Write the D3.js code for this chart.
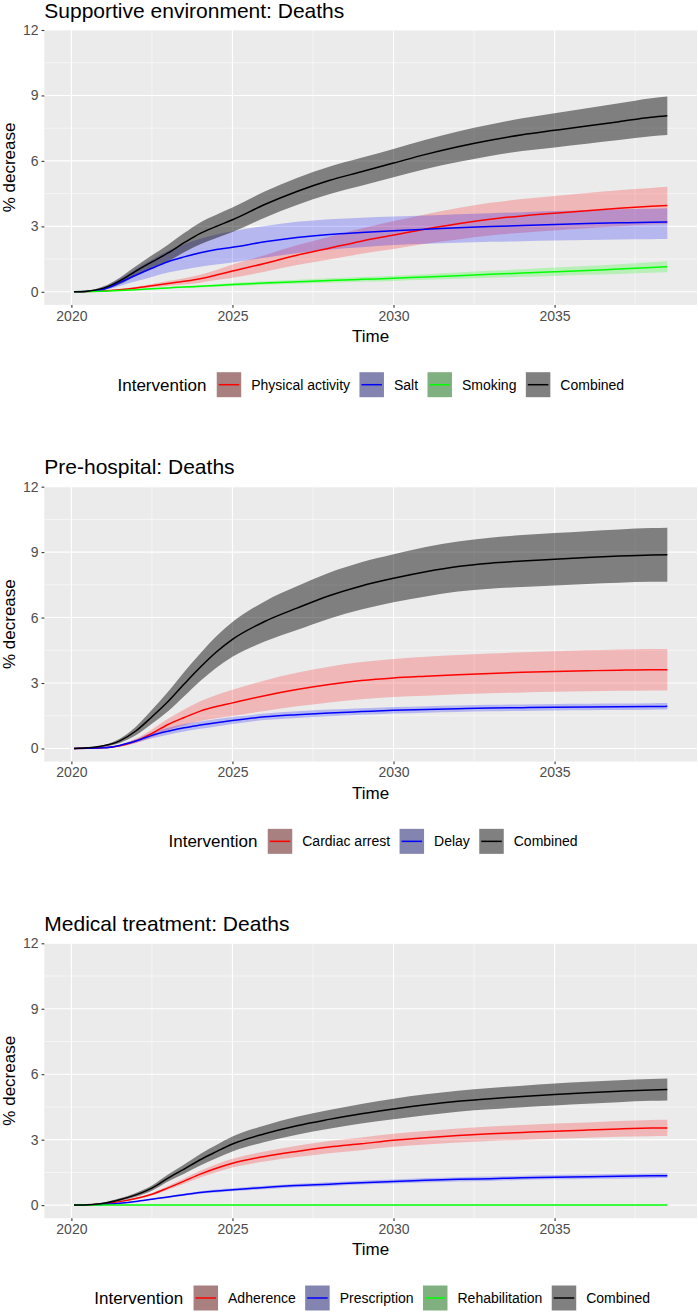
<!DOCTYPE html>
<html>
<head>
<meta charset="utf-8">
<title>Deaths: % decrease by intervention</title>
<script src="https://cdn.jsdelivr.net/npm/d3@7"></script>
<style>
  body { margin: 0; background: #fff; }
  svg { display: block; font-family: "Liberation Sans", Arial, Helvetica, sans-serif; }
</style>
</head>
<body>
<script>
(function(){

  //pseudo-global data
  var years = [2020.08, 2020.5, 2021, 2021.5, 2022, 2022.5, 2023, 2023.5, 2024, 2024.5, 2025, 2026, 2027,
               2028, 2029, 2030, 2031, 2032, 2033, 2034, 2035, 2036, 2037, 2038, 2038.5];
  var xTicks = [2020, 2025, 2030, 2035];
  var xMinor = [2022.5, 2027.5, 2032.5, 2037.5];
  var yTicks = [0, 3, 6, 9, 12];
  var yMinor = [1.5, 4.5, 7.5, 10.5];
  var panelTitles = ["Supportive environment: Deaths", "Pre-hospital: Deaths", "Medical treatment: Deaths"];
  var legendTitle = "Intervention";
  var xTitle = "Time", yTitle = "% decrease";

  //panel 1: supportive environment
  var envPhysMean = [0, 0.01, 0.04, 0.1, 0.18, 0.28, 0.38, 0.48, 0.6, 0.77, 0.95, 1.3, 1.68, 2.0, 2.32, 2.6, 2.88, 3.12, 3.33, 3.48, 3.6, 3.72, 3.83, 3.92, 3.96];
  var envPhysLo   = [0, 0.01, 0.03, 0.07, 0.13, 0.2, 0.27, 0.34, 0.42, 0.54, 0.65, 0.92, 1.23, 1.48, 1.74, 1.96, 2.2, 2.4, 2.58, 2.71, 2.81, 2.91, 3.0, 3.08, 3.11];
  var envPhysHi   = [0, 0.01, 0.05, 0.13, 0.23, 0.36, 0.49, 0.62, 0.78, 1.0, 1.25, 1.68, 2.13, 2.52, 2.9, 3.24, 3.56, 3.84, 4.08, 4.25, 4.39, 4.53, 4.66, 4.76, 4.81];
  var envSaltMean = [0, 0.02, 0.12, 0.42, 0.76, 1.08, 1.38, 1.6, 1.79, 1.94, 2.04, 2.29, 2.49, 2.63, 2.72, 2.8, 2.87, 2.94, 2.99, 3.04, 3.09, 3.13, 3.16, 3.19, 3.2];
  var envSaltLo   = [0, 0.01, 0.07, 0.27, 0.48, 0.68, 0.88, 1.02, 1.15, 1.25, 1.34, 1.56, 1.77, 1.93, 2.04, 2.14, 2.2, 2.25, 2.29, 2.32, 2.35, 2.38, 2.4, 2.41, 2.42];
  var envSaltHi   = [0, 0.03, 0.17, 0.57, 1.04, 1.48, 1.88, 2.18, 2.43, 2.63, 2.78, 3.02, 3.21, 3.33, 3.4, 3.45, 3.5, 3.56, 3.6, 3.65, 3.7, 3.74, 3.78, 3.81, 3.83];
  var envSmokMean = [0, 0.01, 0.03, 0.06, 0.1, 0.14, 0.18, 0.22, 0.25, 0.29, 0.33, 0.4, 0.46, 0.52, 0.57, 0.62, 0.68, 0.74, 0.8, 0.86, 0.92, 0.98, 1.04, 1.11, 1.15];
  var envSmokLo   = [0, 0.01, 0.02, 0.05, 0.08, 0.11, 0.14, 0.17, 0.2, 0.23, 0.26, 0.32, 0.37, 0.42, 0.46, 0.5, 0.55, 0.6, 0.64, 0.69, 0.73, 0.78, 0.82, 0.87, 0.9];
  var envSmokHi   = [0, 0.01, 0.04, 0.07, 0.12, 0.17, 0.22, 0.27, 0.3, 0.35, 0.4, 0.48, 0.55, 0.62, 0.68, 0.74, 0.81, 0.88, 0.96, 1.03, 1.11, 1.18, 1.26, 1.35, 1.4];
  var envCombMean = [0, 0.03, 0.17, 0.5, 0.95, 1.37, 1.78, 2.25, 2.68, 3.0, 3.3, 4.0, 4.6, 5.1, 5.5, 5.9, 6.3, 6.65, 6.95, 7.2, 7.4, 7.6, 7.8, 8.0, 8.07];
  var envCombLo   = [0, 0.01, 0.09, 0.35, 0.73, 1.07, 1.4, 1.81, 2.18, 2.47, 2.74, 3.4, 3.98, 4.47, 4.86, 5.25, 5.63, 5.95, 6.23, 6.45, 6.62, 6.79, 6.96, 7.13, 7.19];
  var envCombHi   = [0, 0.05, 0.25, 0.65, 1.17, 1.67, 2.16, 2.69, 3.18, 3.53, 3.86, 4.6, 5.22, 5.73, 6.14, 6.55, 6.97, 7.35, 7.67, 7.95, 8.18, 8.41, 8.64, 8.87, 8.95];

  //panel 2: pre-hospital
  var preCardMean = [0, 0.01, 0.03, 0.12, 0.34, 0.69, 1.1, 1.42, 1.71, 1.92, 2.09, 2.42, 2.7, 2.93, 3.11, 3.23, 3.31, 3.38, 3.44, 3.49, 3.53, 3.56, 3.59, 3.61, 3.61];
  var preCardLo   = [0, 0.01, 0.02, 0.08, 0.24, 0.51, 0.84, 1.06, 1.26, 1.39, 1.49, 1.72, 1.93, 2.11, 2.26, 2.36, 2.42, 2.48, 2.53, 2.57, 2.6, 2.62, 2.64, 2.66, 2.66];
  var preCardHi   = [0, 0.01, 0.04, 0.16, 0.44, 0.87, 1.36, 1.78, 2.16, 2.45, 2.69, 3.12, 3.47, 3.75, 3.96, 4.1, 4.2, 4.28, 4.35, 4.41, 4.46, 4.5, 4.54, 4.56, 4.56];
  var preDelMean  = [0, 0.01, 0.03, 0.14, 0.34, 0.6, 0.79, 0.95, 1.07, 1.18, 1.28, 1.45, 1.55, 1.63, 1.69, 1.75, 1.79, 1.82, 1.85, 1.87, 1.89, 1.9, 1.91, 1.92, 1.93];
  var preDelLo    = [0, 0.01, 0.02, 0.1, 0.26, 0.47, 0.63, 0.78, 0.9, 1.01, 1.12, 1.3, 1.4, 1.48, 1.54, 1.6, 1.64, 1.67, 1.7, 1.72, 1.74, 1.75, 1.76, 1.77, 1.78];
  var preDelHi    = [0, 0.01, 0.04, 0.18, 0.42, 0.73, 0.95, 1.12, 1.24, 1.35, 1.44, 1.6, 1.7, 1.78, 1.84, 1.9, 1.94, 1.97, 2.0, 2.02, 2.04, 2.05, 2.06, 2.07, 2.08];
  var preCombMean = [0, 0.03, 0.12, 0.35, 0.8, 1.45, 2.15, 2.95, 3.72, 4.42, 5.0, 5.82, 6.43, 7.0, 7.45, 7.8, 8.1, 8.34, 8.49, 8.59, 8.67, 8.75, 8.82, 8.87, 8.88];
  var preCombLo   = [0, 0.02, 0.08, 0.25, 0.6, 1.13, 1.7, 2.39, 3.09, 3.7, 4.2, 4.9, 5.43, 5.95, 6.37, 6.7, 6.97, 7.19, 7.32, 7.4, 7.47, 7.54, 7.6, 7.64, 7.64];
  var preCombHi   = [0, 0.04, 0.16, 0.45, 1.0, 1.77, 2.6, 3.51, 4.35, 5.14, 5.8, 6.74, 7.43, 8.05, 8.53, 8.9, 9.23, 9.49, 9.66, 9.78, 9.87, 9.96, 10.04, 10.1, 10.12];

  //panel 3: medical treatment
  var medAdhMean  = [0, 0.01, 0.06, 0.16, 0.3, 0.5, 0.79, 1.1, 1.42, 1.69, 1.92, 2.23, 2.46, 2.66, 2.81, 2.97, 3.09, 3.19, 3.27, 3.33, 3.39, 3.44, 3.49, 3.53, 3.54];
  var medAdhLo    = [0, 0.01, 0.05, 0.14, 0.26, 0.44, 0.7, 0.98, 1.27, 1.51, 1.72, 2.0, 2.2, 2.38, 2.52, 2.67, 2.78, 2.87, 2.94, 2.99, 3.04, 3.09, 3.13, 3.16, 3.17];
  var medAdhHi    = [0, 0.01, 0.07, 0.18, 0.34, 0.56, 0.88, 1.22, 1.57, 1.87, 2.12, 2.46, 2.72, 2.94, 3.1, 3.27, 3.4, 3.51, 3.6, 3.67, 3.74, 3.79, 3.85, 3.9, 3.91];
  var medPreMean  = [0, 0.01, 0.03, 0.09, 0.17, 0.27, 0.37, 0.48, 0.58, 0.65, 0.7, 0.81, 0.9, 0.96, 1.03, 1.08, 1.14, 1.18, 1.21, 1.25, 1.28, 1.3, 1.32, 1.34, 1.35];
  var medPreLo    = [0, 0.01, 0.025, 0.08, 0.15, 0.24, 0.33, 0.43, 0.52, 0.58, 0.63, 0.73, 0.82, 0.87, 0.94, 0.99, 1.04, 1.08, 1.11, 1.15, 1.18, 1.2, 1.21, 1.23, 1.24];
  var medPreHi    = [0, 0.01, 0.035, 0.1, 0.19, 0.3, 0.41, 0.53, 0.64, 0.72, 0.77, 0.89, 0.98, 1.05, 1.12, 1.17, 1.24, 1.28, 1.31, 1.35, 1.38, 1.4, 1.43, 1.45, 1.46];
  var medRehMean  = [0, 0, 0, 0, 0, 0, 0, 0, 0, 0, 0, 0, 0, 0, 0, 0, 0, 0, 0, 0, 0, 0, 0, 0, 0];
  var medRehLo    = [0, 0, -0.01, -0.01, -0.01, -0.01, -0.01, -0.01, -0.01, -0.01, -0.01, -0.01, -0.01, -0.01, -0.01, -0.01, -0.01, -0.01, -0.01, -0.01, -0.01, -0.01, -0.01, -0.01, -0.01];
  var medRehHi    = [0, 0, 0.01, 0.01, 0.01, 0.01, 0.01, 0.01, 0.01, 0.01, 0.01, 0.01, 0.01, 0.01, 0.01, 0.01, 0.01, 0.01, 0.01, 0.01, 0.01, 0.01, 0.01, 0.01, 0.01];
  var medCombMean = [0, 0.02, 0.09, 0.25, 0.47, 0.78, 1.24, 1.65, 2.08, 2.45, 2.8, 3.27, 3.64, 3.93, 4.19, 4.41, 4.6, 4.76, 4.88, 4.98, 5.07, 5.15, 5.22, 5.28, 5.3];
  var medCombLo   = [0, 0.01, 0.06, 0.19, 0.38, 0.66, 1.08, 1.44, 1.82, 2.15, 2.46, 2.89, 3.23, 3.5, 3.74, 3.94, 4.12, 4.28, 4.39, 4.49, 4.57, 4.65, 4.72, 4.78, 4.8];
  var medCombHi   = [0, 0.03, 0.12, 0.31, 0.56, 0.9, 1.4, 1.86, 2.34, 2.75, 3.14, 3.65, 4.05, 4.36, 4.64, 4.88, 5.08, 5.24, 5.37, 5.47, 5.57, 5.65, 5.72, 5.78, 5.8];

  //series tables built from the arrays above
  var panels = [
    [{name: "Physical activity", mean: envPhysMean, lo: envPhysLo, hi: envPhysHi},
     {name: "Salt", mean: envSaltMean, lo: envSaltLo, hi: envSaltHi},
     {name: "Smoking", mean: envSmokMean, lo: envSmokLo, hi: envSmokHi},
     {name: "Combined", mean: envCombMean, lo: envCombLo, hi: envCombHi}],
    [{name: "Cardiac arrest", mean: preCardMean, lo: preCardLo, hi: preCardHi},
     {name: "Delay", mean: preDelMean, lo: preDelLo, hi: preDelHi},
     {name: "Combined", mean: preCombMean, lo: preCombLo, hi: preCombHi}],
    [{name: "Adherence", mean: medAdhMean, lo: medAdhLo, hi: medAdhHi},
     {name: "Prescription", mean: medPreMean, lo: medPreLo, hi: medPreHi},
     {name: "Rehabilitation", mean: medRehMean, lo: medRehLo, hi: medRehHi},
     {name: "Combined", mean: medCombMean, lo: medCombLo, hi: medCombHi}]
  ];

  //styles
  var lineColors = ["#ff0000", "#0000ff", "#00ff00"], combColor = "#000000";
  var keyFills = ["#a98080", "#8484b0", "#80b080"], combKeyFill = "#808080";
  var bandOpacity = 0.22, combBandOpacity = 0.46;

  //layout
  var width = 698, height = 1312;
  var left = 44.3, right = 697;
  var panelTop0 = 30, panelStep = 456.65, panelH = 274.9;
  var legendStart = [117.5, 168.5, 94.3];

  window.onload = drawFigure(); //draw when the page loads

  function drawFigure(){
    var svg = d3.select("body")
      .append("svg")
      .attr("width", width)
      .attr("height", height);

    var ext = d3.extent(years), pad = (ext[1] - ext[0]) * 0.05; //ggplot style 5% expansion
    var x = d3.scaleLinear()
      .domain([ext[0] - pad, ext[1] + pad])
      .range([left, right]);

    panels.forEach(function(series, i){
      drawPanel(svg, series, i, x);
    });
  };

  function colorOf(s, j){
    return s.name == "Combined" ? combColor : lineColors[j];
  };

  function drawPanel(svg, series, i, x){
    var top = panelTop0 + i * panelStep,
        bottom = top + panelH;

    var y = d3.scaleLinear() //bottom has ggplot expansion, top stops at 12
      .domain([-0.6, 12])
      .range([bottom, top]);

    var g = svg.append("g").attr("class", "panel");

    //panel background
    g.append("rect")
      .attr("x", left).attr("y", top)
      .attr("width", right - left).attr("height", bottom - top)
      .attr("fill", "#ebebeb");

    //minor grid
    g.selectAll(".ygm").data(yMinor).enter().append("line")
      .attr("x1", left).attr("x2", right)
      .attr("y1", function(d){ return y(d); }).attr("y2", function(d){ return y(d); })
      .attr("stroke", "#fff").attr("stroke-width", 0.55);
    g.selectAll(".xgm").data(xMinor).enter().append("line")
      .attr("y1", top).attr("y2", bottom)
      .attr("x1", function(d){ return x(d); }).attr("x2", function(d){ return x(d); })
      .attr("stroke", "#fff").attr("stroke-width", 0.55);

    //major grid
    g.selectAll(".yg").data(yTicks).enter().append("line")
      .attr("x1", left).attr("x2", right)
      .attr("y1", function(d){ return y(d); }).attr("y2", function(d){ return y(d); })
      .attr("stroke", "#fff").attr("stroke-width", 1.1);
    g.selectAll(".xg").data(xTicks).enter().append("line")
      .attr("y1", top).attr("y2", bottom)
      .attr("x1", function(d){ return x(d); }).attr("x2", function(d){ return x(d); })
      .attr("stroke", "#fff").attr("stroke-width", 1.1);

    //ribbons first, then lines
    var area = d3.area()
      .x(function(d){ return x(d.t); })
      .y0(function(d){ return y(d.lo); })
      .y1(function(d){ return y(d.hi); })
      .curve(d3.curveMonotoneX);
    var line = d3.line()
      .x(function(d){ return x(d.t); })
      .y(function(d){ return y(d.v); })
      .curve(d3.curveMonotoneX);

    series.forEach(function(s, j){
      var pts = years.map(function(t, k){ return {t: t, lo: s.lo[k], hi: s.hi[k]}; });
      g.append("path")
        .datum(pts)
        .attr("d", area)
        .attr("fill", colorOf(s, j))
        .attr("fill-opacity", s.name == "Combined" ? combBandOpacity : bandOpacity);
    });
    series.forEach(function(s, j){
      var pts = years.map(function(t, k){ return {t: t, v: s.mean[k]}; });
      g.append("path")
        .datum(pts)
        .attr("d", line)
        .attr("fill", "none")
        .attr("stroke", colorOf(s, j))
        .attr("stroke-width", 1.5);
    });

    //axes
    var xAxis = g.append("g")
      .attr("transform", "translate(0," + bottom + ")")
      .call(d3.axisBottom(x).tickValues(xTicks).tickFormat(d3.format("d")).tickSize(2.75).tickPadding(3));
    var yAxis = g.append("g")
      .attr("transform", "translate(" + left + ",0)")
      .call(d3.axisLeft(y).tickValues(yTicks).tickSize(2.75).tickPadding(3));
    [xAxis, yAxis].forEach(function(a){
      a.select(".domain").remove();
      a.selectAll(".tick line").attr("stroke", "#333").attr("stroke-width", 1.1);
      a.selectAll(".tick text")
        .attr("fill", "#4d4d4d")
        .style("font-size", "14px")
        .style("font-family", "'Liberation Sans', Arial, sans-serif");
    });

    //titles
    g.append("text")
      .attr("x", left).attr("y", top - 20)
      .attr("dy", "0.36em")
      .style("font-size", "21px")
      .text(panelTitles[i]);
    g.append("text")
      .attr("x", (left + right) / 2).attr("y", bottom + 31)
      .attr("dy", "0.36em")
      .attr("text-anchor", "middle")
      .style("font-size", "17px")
      .text(xTitle);
    g.append("text")
      .attr("transform", "translate(8.5," + ((top + bottom) / 2) + ") rotate(-90)")
      .attr("dy", "0.36em")
      .attr("text-anchor", "middle")
      .style("font-size", "17px")
      .text(yTitle);

    drawLegend(g, series, legendStart[i], bottom + 79.8);
  };

  function drawLegend(g, series, x0, cy){
    var leg = g.append("g").attr("class", "legend");
    var title = leg.append("text")
      .attr("x", x0).attr("y", cy)
      .attr("dy", "0.36em")
      .style("font-size", "17px")
      .text(legendTitle);
    var cx = x0 + title.node().getComputedTextLength() + 10.4;

    series.forEach(function(s, j){
      leg.append("rect") //key box
        .attr("x", cx).attr("y", cy - 12.5)
        .attr("width", 24.5).attr("height", 25)
        .attr("fill", s.name == "Combined" ? combKeyFill : keyFills[j]);
      leg.append("line") //key line
        .attr("x1", cx + 2).attr("x2", cx + 22.5)
        .attr("y1", cy).attr("y2", cy)
        .attr("stroke", colorOf(s, j))
        .attr("stroke-width", 1.5);
      var lab = leg.append("text")
        .attr("x", cx + 34.5).attr("y", cy)
        .attr("dy", "0.36em")
        .style("font-size", "14px")
        .text(s.name);
      cx += 34.5 + lab.node().getComputedTextLength() + 9.4;
    });
  };
})();
</script>
</body>
</html>
